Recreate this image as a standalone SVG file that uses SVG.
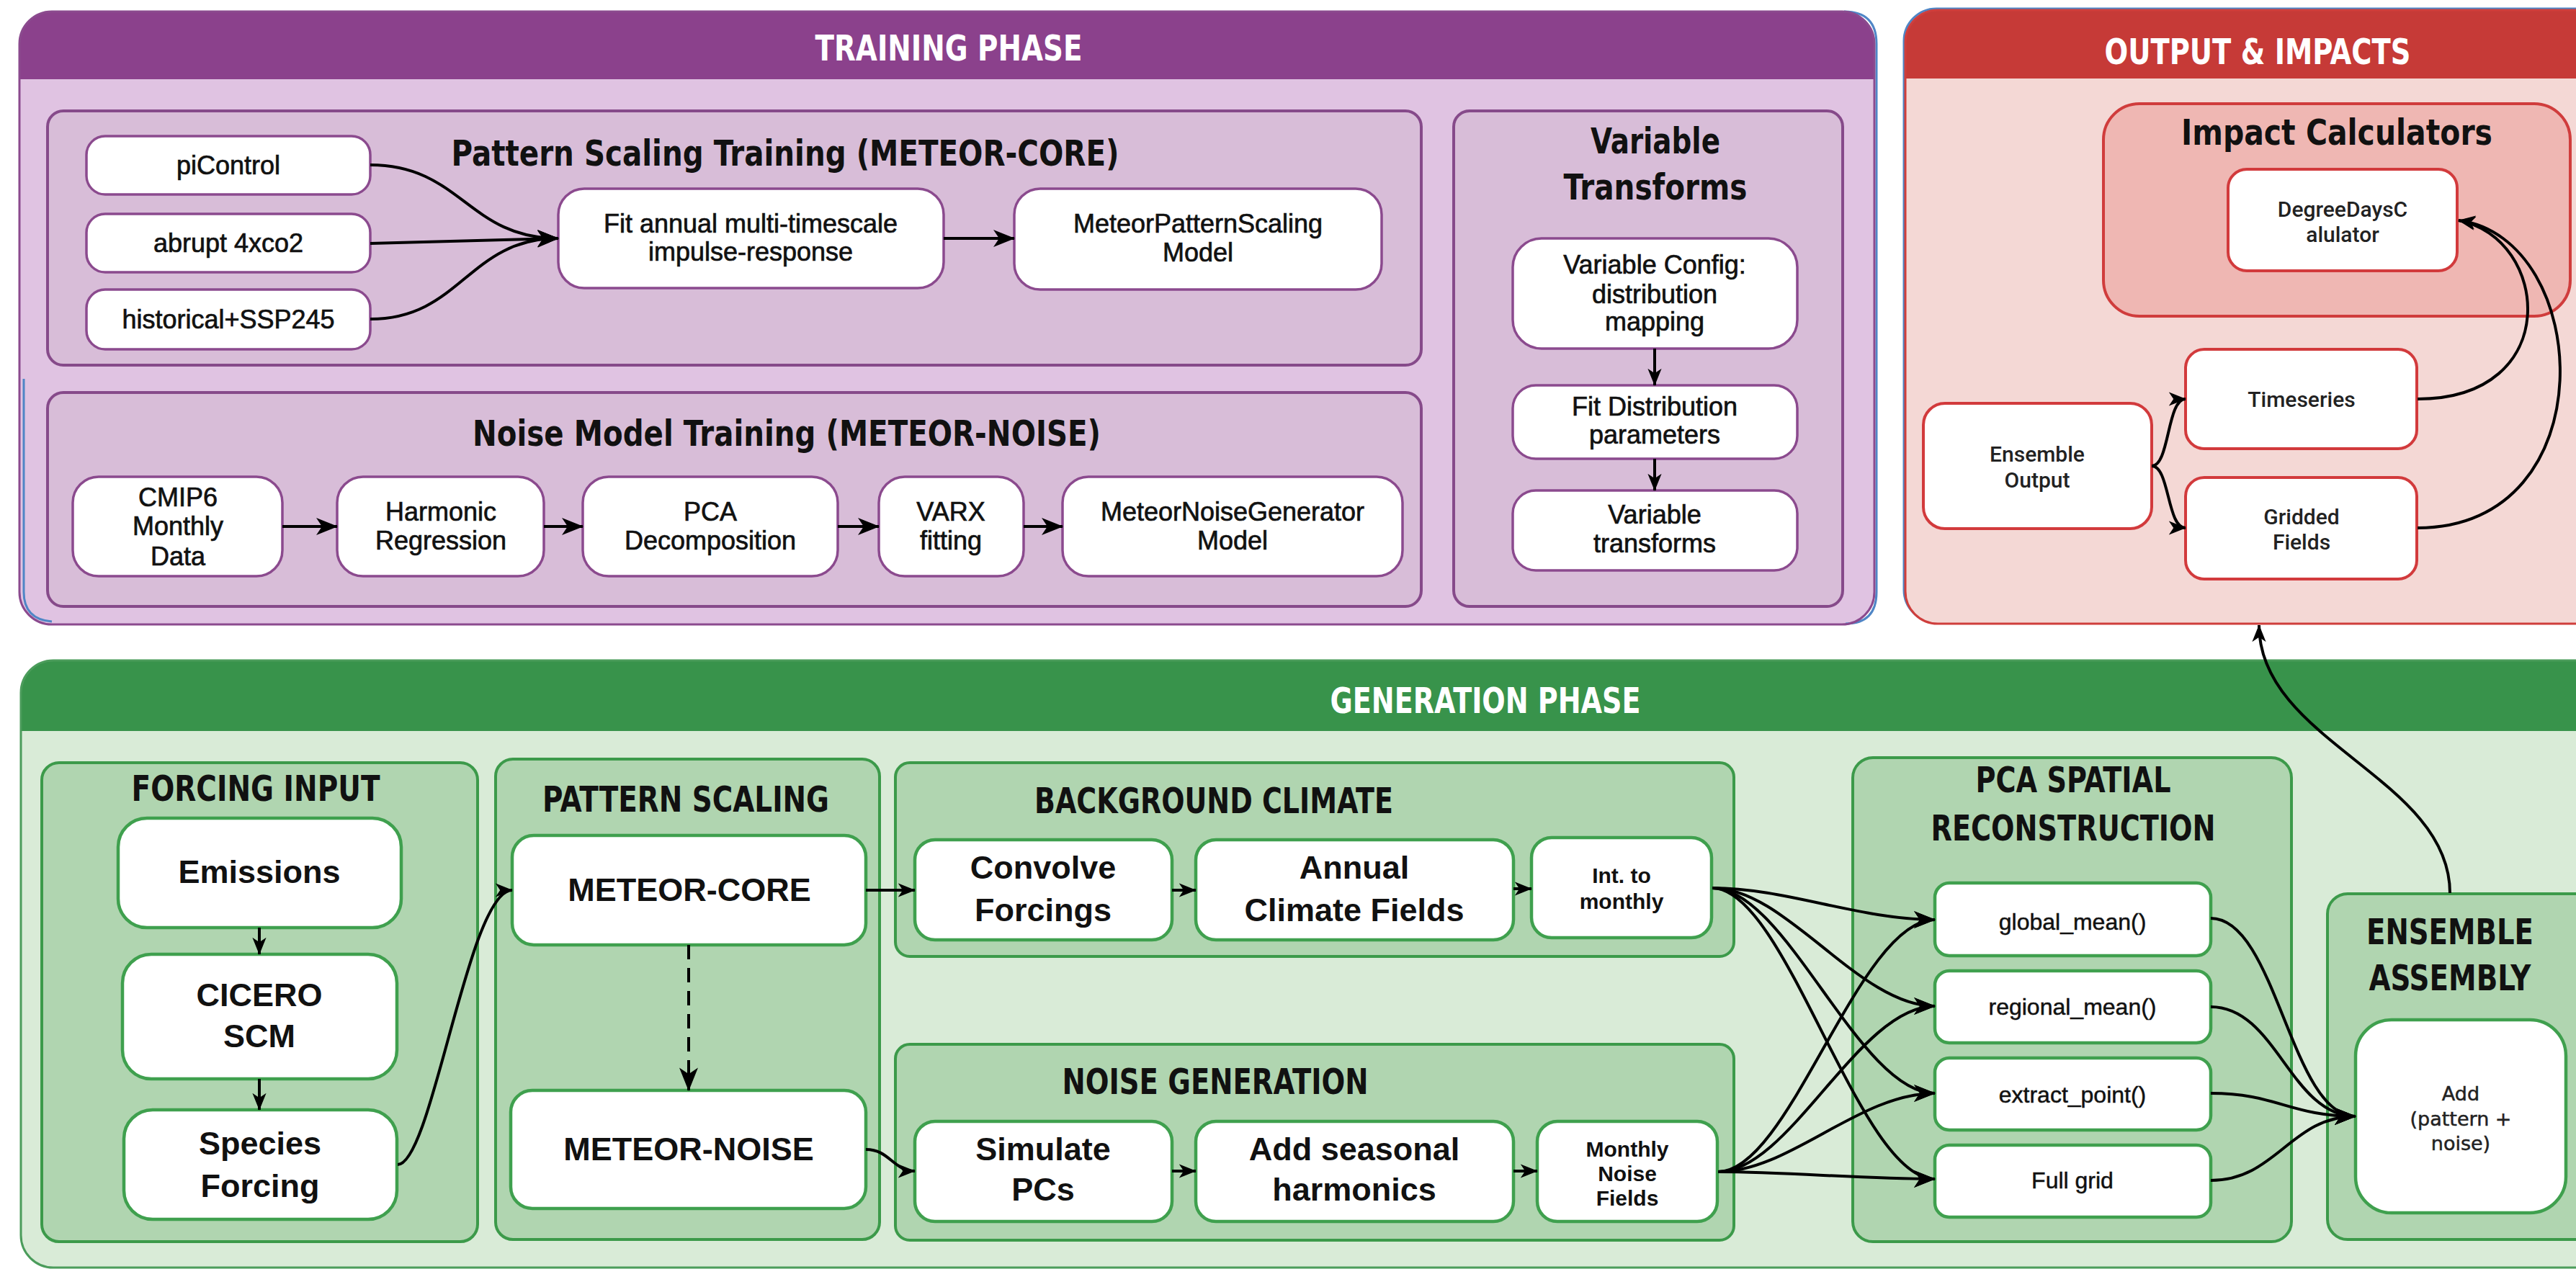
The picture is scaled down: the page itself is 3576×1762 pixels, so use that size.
<svg xmlns="http://www.w3.org/2000/svg" width="3576" height="1762" viewBox="0 0 3576 1762">
<defs>
<style>
.hdr{font-family:'Liberation Sans Narrow','DejaVu Sans Condensed',sans-serif;font-weight:bold;font-size:50px;fill:#fff;text-anchor:middle}
.sec{font-family:'Liberation Sans Narrow','DejaVu Sans Condensed',sans-serif;font-weight:bold;font-size:50px;fill:#111;text-anchor:middle}
.tn{font-family:'Liberation Sans',Arial,sans-serif;font-size:36px;fill:#111;stroke:#111;stroke-width:0.7;text-anchor:middle}
.gn{font-family:'Liberation Sans',Arial,sans-serif;font-weight:bold;font-size:45px;fill:#111;text-anchor:middle}
.gs{font-family:'Liberation Sans',Arial,sans-serif;font-weight:bold;font-size:30px;fill:#111;text-anchor:middle}
.pn{font-family:'Liberation Sans',Arial,sans-serif;font-size:32px;fill:#111;stroke:#111;stroke-width:0.5;text-anchor:middle}
.on{font-family:Roboto,'Liberation Sans',sans-serif;font-weight:500;font-size:30px;fill:#222;text-anchor:middle}
.an{font-family:'DejaVu Sans',sans-serif;font-size:27px;fill:#222;stroke:#222;stroke-width:0.5;text-anchor:middle}
.psub{fill:#D8BDD8;stroke:#864A8A;stroke-width:4}
.pnode{fill:#fff;stroke:#8B4A8E;stroke-width:3.5}
.gsub{fill:#B0D5B0;stroke:#3C9A4A;stroke-width:4}
.gnode{fill:#fff;stroke:#3FA04E;stroke-width:4.5}
.rnode{fill:#fff;stroke:#D23A3C;stroke-width:4}
.conn path{fill:none;stroke:#000;stroke-width:4}
</style>
<marker id="ah" viewBox="0 0 30 24" refX="29" refY="12" markerWidth="30" markerHeight="24" markerUnits="userSpaceOnUse" orient="auto"><path d="M0,0 L30,12 L0,24 L8,12 Z" fill="#000"/></marker>
<marker id="ahs" viewBox="0 0 30 24" refX="29" refY="12" markerWidth="24" markerHeight="20" markerUnits="userSpaceOnUse" orient="auto"><path d="M0,0 L30,12 L0,24 L8,12 Z" fill="#000"/></marker>
<marker id="ahd" viewBox="0 0 30 24" refX="29" refY="12" markerWidth="36" markerHeight="26" markerUnits="userSpaceOnUse" orient="auto"><path d="M0,0 L30,12 L0,24 L8,12 Z" fill="#000"/></marker>
</defs>
<rect width="3576" height="1762" fill="#fff"/>

<!-- TRAINING PHASE -->
<g id="training-phase">
<rect x="27" y="16" width="2575" height="851" rx="45" fill="#E0C3E2"/>
<path d="M27,110 L27,61 A45,45 0 0 1 72,16 L2557,16 A45,45 0 0 1 2602,61 L2602,110 Z" fill="#8B418C"/>
<path d="M2560,16 Q2605,16 2605,61 L2605,822 Q2605,866 2562,866" fill="none" stroke="#4F86C6" stroke-width="3"/>
<rect x="27" y="16" width="2575" height="851" rx="45" fill="none" stroke="#8B4A8E" stroke-width="3"/>
<path d="M33,526 L33,822 Q33,860 72,863" fill="none" stroke="#4F86C6" stroke-width="3"/>
<text class="hdr" x="1317" y="84" textLength="371" lengthAdjust="spacingAndGlyphs">TRAINING PHASE</text>
</g>

<g id="pattern-scaling-training">
<rect class="psub" x="66" y="154" width="1907" height="353" rx="22"/>
<text class="sec" x="1090" y="230" textLength="927" lengthAdjust="spacingAndGlyphs">Pattern Scaling Training (METEOR-CORE)</text>
</g>
<g id="noise-model-training">
<rect class="psub" x="66" y="545" width="1907" height="297" rx="22"/>
<text class="sec" x="1092" y="619" textLength="872" lengthAdjust="spacingAndGlyphs">Noise Model Training (METEOR-NOISE)</text>
</g>
<g id="variable-transforms-group">
<rect class="psub" x="2018" y="154" width="540" height="688" rx="22"/>
<text class="sec" x="2298" y="213" textLength="180" lengthAdjust="spacingAndGlyphs">Variable</text>
<text class="sec" x="2298" y="277" textLength="255" lengthAdjust="spacingAndGlyphs">Transforms</text>
</g>

<g id="picontrol"><rect class="pnode" x="120" y="189" width="394" height="81" rx="26"/><text class="tn" x="317" y="242">piControl</text></g>
<g id="abrupt4xco2"><rect class="pnode" x="120" y="297" width="394" height="81" rx="26"/><text class="tn" x="317" y="350">abrupt 4xco2</text></g>
<g id="historical"><rect class="pnode" x="120" y="402" width="394" height="83" rx="26"/><text class="tn" x="317" y="456">historical+SSP245</text></g>
<g id="fit-impulse"><rect class="pnode" x="775" y="262" width="535" height="138" rx="36"/><text class="tn" x="1042" y="323">Fit annual multi-timescale</text><text class="tn" x="1042" y="362">impulse-response</text></g>
<g id="meteor-pattern-model"><rect class="pnode" x="1408" y="262" width="510" height="140" rx="36"/><text class="tn" x="1663" y="323">MeteorPatternScaling</text><text class="tn" x="1663" y="363">Model</text></g>

<g id="cmip6"><rect class="pnode" x="101" y="662" width="291" height="138" rx="36"/><text class="tn" x="247" y="703">CMIP6</text><text class="tn" x="247" y="743">Monthly</text><text class="tn" x="247" y="785">Data</text></g>
<g id="harmonic-regression"><rect class="pnode" x="468" y="662" width="287" height="138" rx="36"/><text class="tn" x="612" y="723">Harmonic</text><text class="tn" x="612" y="763">Regression</text></g>
<g id="pca-decomposition"><rect class="pnode" x="809" y="662" width="354" height="138" rx="36"/><text class="tn" x="986" y="723">PCA</text><text class="tn" x="986" y="763">Decomposition</text></g>
<g id="varx"><rect class="pnode" x="1220" y="662" width="201" height="138" rx="36"/><text class="tn" x="1320" y="723">VARX</text><text class="tn" x="1320" y="763">fitting</text></g>
<g id="meteor-noise-model"><rect class="pnode" x="1475" y="662" width="472" height="138" rx="36"/><text class="tn" x="1711" y="723">MeteorNoiseGenerator</text><text class="tn" x="1711" y="763">Model</text></g>

<g id="variable-config"><rect class="pnode" x="2100" y="331" width="395" height="153" rx="40"/><text class="tn" x="2297" y="380">Variable Config:</text><text class="tn" x="2297" y="421">distribution</text><text class="tn" x="2297" y="459">mapping</text></g>
<g id="fit-distribution"><rect class="pnode" x="2100" y="535" width="395" height="102" rx="32"/><text class="tn" x="2297" y="577">Fit Distribution</text><text class="tn" x="2297" y="616">parameters</text></g>
<g id="variable-transforms"><rect class="pnode" x="2100" y="681" width="395" height="111" rx="32"/><text class="tn" x="2297" y="727">Variable</text><text class="tn" x="2297" y="767">transforms</text></g>

<!-- OUTPUT & IMPACTS -->
<g id="output-impacts">
<rect x="2643" y="12" width="1000" height="852" rx="45" fill="none" stroke="#4F86C6" stroke-width="3"/>
<rect x="2645" y="14" width="1000" height="852" rx="45" fill="#F4D8D5"/>
<path d="M2645,109 L2645,59 A45,45 0 0 1 2690,14 L3645,14 L3645,109 Z" fill="#C63A37"/>
<rect x="2645" y="14" width="1000" height="852" rx="45" fill="none" stroke="#CF3E3C" stroke-width="3"/>
<text class="hdr" x="3134" y="89" textLength="425" lengthAdjust="spacingAndGlyphs">OUTPUT &amp; IMPACTS</text>
</g>
<g id="impact-calculators">
<rect x="2920" y="144" width="648" height="295" rx="50" fill="#EFB7B3" stroke="#D03C3C" stroke-width="4"/>
<text class="sec" x="3244" y="201" textLength="432" lengthAdjust="spacingAndGlyphs">Impact Calculators</text>
</g>
<g id="degree-days"><rect class="rnode" x="3093" y="235" width="318" height="141" rx="26"/><text class="on" x="3252" y="301">DegreeDaysC</text><text class="on" x="3252" y="336">alulator</text></g>
<g id="timeseries"><rect class="rnode" x="3034" y="485" width="321" height="138" rx="26"/><text class="on" x="3195" y="565">Timeseries</text></g>
<g id="gridded-fields"><rect class="rnode" x="3034" y="663" width="321" height="141" rx="26"/><text class="on" x="3195" y="728">Gridded</text><text class="on" x="3195" y="763">Fields</text></g>
<g id="ensemble-output"><rect class="rnode" x="2670" y="560" width="317" height="174" rx="30"/><text class="on" x="2828" y="641">Ensemble</text><text class="on" x="2828" y="677">Output</text></g>

<!-- GENERATION PHASE -->
<g id="generation-phase">
<rect x="29" y="917" width="3700" height="843" rx="45" fill="#D9EBD7"/>
<path d="M29,1015 L29,962 A45,45 0 0 1 74,917 L3729,917 L3729,1015 Z" fill="#38934B"/>
<rect x="29" y="917" width="3700" height="843" rx="45" fill="none" stroke="#4B9C5B" stroke-width="3"/>
<text class="hdr" x="2062" y="990" textLength="431" lengthAdjust="spacingAndGlyphs">GENERATION PHASE</text>
</g>
<g id="forcing-input"><rect class="gsub" x="58" y="1059" width="605" height="665" rx="24"/><text class="sec" x="355" y="1112" textLength="345" lengthAdjust="spacingAndGlyphs">FORCING INPUT</text></g>
<g id="pattern-scaling"><rect class="gsub" x="688" y="1054" width="533" height="667" rx="24"/><text class="sec" x="952" y="1127" textLength="398" lengthAdjust="spacingAndGlyphs">PATTERN SCALING</text></g>
<g id="background-climate"><rect class="gsub" x="1243" y="1059" width="1164" height="269" rx="20"/><text class="sec" x="1685" y="1129" textLength="498" lengthAdjust="spacingAndGlyphs">BACKGROUND CLIMATE</text></g>
<g id="noise-generation"><rect class="gsub" x="1243" y="1450" width="1164" height="272" rx="20"/><text class="sec" x="1687" y="1519" textLength="425" lengthAdjust="spacingAndGlyphs">NOISE GENERATION</text></g>
<g id="pca-spatial"><rect class="gsub" x="2572" y="1052" width="609" height="672" rx="28"/><text class="sec" x="2878" y="1100" textLength="271" lengthAdjust="spacingAndGlyphs">PCA SPATIAL</text><text class="sec" x="2878" y="1167" textLength="395" lengthAdjust="spacingAndGlyphs">RECONSTRUCTION</text></g>
<g id="ensemble-assembly"><rect class="gsub" x="3231" y="1241" width="420" height="480" rx="28"/><text class="sec" x="3401" y="1311" textLength="232" lengthAdjust="spacingAndGlyphs">ENSEMBLE</text><text class="sec" x="3401" y="1375" textLength="225" lengthAdjust="spacingAndGlyphs">ASSEMBLY</text></g>

<g id="emissions"><rect class="gnode" x="164" y="1136" width="393" height="152" rx="40"/><text class="gn" x="360" y="1226">Emissions</text></g>
<g id="cicero-scm"><rect class="gnode" x="170" y="1325" width="381" height="173" rx="40"/><text class="gn" x="360" y="1397">CICERO</text><text class="gn" x="360" y="1454">SCM</text></g>
<g id="species-forcing"><rect class="gnode" x="172" y="1541" width="379" height="152" rx="40"/><text class="gn" x="361" y="1603">Species</text><text class="gn" x="361" y="1662">Forcing</text></g>
<g id="meteor-core"><rect class="gnode" x="711" y="1160" width="491" height="152" rx="30"/><text class="gn" x="957" y="1251">METEOR-CORE</text></g>
<g id="meteor-noise"><rect class="gnode" x="709" y="1514" width="493" height="164" rx="30"/><text class="gn" x="956" y="1611">METEOR-NOISE</text></g>
<g id="convolve-forcings"><rect class="gnode" x="1270" y="1166" width="357" height="139" rx="28"/><text class="gn" x="1448" y="1220">Convolve</text><text class="gn" x="1448" y="1279">Forcings</text></g>
<g id="annual-climate"><rect class="gnode" x="1660" y="1166" width="441" height="139" rx="28"/><text class="gn" x="1880" y="1220">Annual</text><text class="gn" x="1880" y="1279">Climate Fields</text></g>
<g id="int-monthly"><rect class="gnode" x="2126" y="1163" width="250" height="139" rx="28"/><text class="gs" x="2251" y="1226">Int. to</text><text class="gs" x="2251" y="1262">monthly</text></g>
<g id="simulate-pcs"><rect class="gnode" x="1270" y="1557" width="357" height="139" rx="28"/><text class="gn" x="1448" y="1611">Simulate</text><text class="gn" x="1448" y="1667">PCs</text></g>
<g id="seasonal-harmonics"><rect class="gnode" x="1660" y="1557" width="441" height="139" rx="28"/><text class="gn" x="1880" y="1611">Add seasonal</text><text class="gn" x="1880" y="1667">harmonics</text></g>
<g id="monthly-noise"><rect class="gnode" x="2134" y="1557" width="250" height="139" rx="28"/><text class="gs" x="2259" y="1606">Monthly</text><text class="gs" x="2259" y="1640">Noise</text><text class="gs" x="2259" y="1674">Fields</text></g>
<g id="global-mean"><rect class="gnode" x="2686" y="1226" width="383" height="101" rx="20"/><text class="pn" x="2877" y="1291">global_mean()</text></g>
<g id="regional-mean"><rect class="gnode" x="2686" y="1348" width="383" height="100" rx="20"/><text class="pn" x="2877" y="1409">regional_mean()</text></g>
<g id="extract-point"><rect class="gnode" x="2686" y="1469" width="383" height="100" rx="20"/><text class="pn" x="2877" y="1531">extract_point()</text></g>
<g id="full-grid"><rect class="gnode" x="2686" y="1590" width="383" height="100" rx="20"/><text class="pn" x="2877" y="1650">Full grid</text></g>
<g id="add-pattern-noise"><rect class="gnode" x="3270" y="1416" width="292" height="268" rx="50"/><text class="an" x="3416" y="1528">Add</text><text class="an" x="3416" y="1563">(pattern +</text><text class="an" x="3416" y="1597">noise)</text></g>

<!-- CONNECTORS -->
<g id="connectors" class="conn">
<path d="M514,229 C640,229 650,331 775,331" marker-end="url(#ah)"/>
<path d="M514,338 L775,331" marker-end="url(#ah)"/>
<path d="M514,443 C640,443 650,331 775,331" marker-end="url(#ah)"/>
<path d="M1310,331 L1408,331" marker-end="url(#ah)"/>
<path d="M392,731 L468,731" marker-end="url(#ah)"/>
<path d="M755,731 L809,731" marker-end="url(#ah)"/>
<path d="M1163,731 L1220,731" marker-end="url(#ah)"/>
<path d="M1421,731 L1475,731" marker-end="url(#ah)"/>
<path d="M2297,484 L2297,535" stroke-width="3" marker-end="url(#ahs)"/>
<path d="M2297,637 L2297,681" stroke-width="3" marker-end="url(#ahs)"/>

<path d="M2987,647 C3012,647 3008,554 3034,554" stroke-width="3.5" marker-end="url(#ahs)"/>
<path d="M2987,647 C3012,647 3008,733 3034,733" stroke-width="3.5" marker-end="url(#ahs)"/>
<path d="M3356,554 C3560,554 3540,330 3413,306" stroke-width="3.5" marker-end="url(#ahs)"/>
<path d="M3356,733 C3620,733 3600,330 3413,306" stroke-width="3.5" marker-end="url(#ahs)"/>

<path d="M3401,1240 C3401,1080 3136,1030 3136,868" stroke-width="3.5" marker-end="url(#ahs)"/>

<path d="M360,1288 L360,1325" stroke-width="3" marker-end="url(#ahs)"/>
<path d="M360,1498 L360,1541" stroke-width="3" marker-end="url(#ahs)"/>
<path d="M552,1617 C600,1617 650,1236 711,1236" stroke-width="3.5" marker-end="url(#ahs)"/>
<path d="M956,1312 L956,1514" stroke-width="3" stroke-dasharray="20 12" marker-end="url(#ahd)"/>
<path d="M1202,1236 L1270,1236" stroke-width="3.5" marker-end="url(#ahs)"/>
<path d="M1627,1236 L1660,1236" stroke-width="3.5" marker-end="url(#ahs)"/>
<path d="M2101,1234 L2126,1234" stroke-width="3.5" marker-end="url(#ahs)"/>
<path d="M1202,1596 C1235,1596 1240,1626 1270,1626" stroke-width="3.5" marker-end="url(#ahs)"/>
<path d="M1627,1626 L1660,1626" stroke-width="3.5" marker-end="url(#ahs)"/>
<path d="M2101,1626 L2134,1626" stroke-width="3.5" marker-end="url(#ahs)"/>

<path d="M2377,1233 C2480,1233 2580,1277 2686,1277" marker-end="url(#ah)"/>
<path d="M2377,1233 C2480,1233 2580,1397 2686,1397" marker-end="url(#ah)"/>
<path d="M2377,1233 C2480,1233 2580,1518 2686,1518" marker-end="url(#ah)"/>
<path d="M2377,1233 C2480,1233 2580,1637 2686,1637" marker-end="url(#ah)"/>
<path d="M2385,1627 C2485,1627 2580,1277 2686,1277" marker-end="url(#ah)"/>
<path d="M2385,1627 C2485,1627 2580,1397 2686,1397" marker-end="url(#ah)"/>
<path d="M2385,1627 C2485,1627 2580,1518 2686,1518" marker-end="url(#ah)"/>
<path d="M2385,1627 C2485,1627 2580,1637 2686,1637" marker-end="url(#ah)"/>

<path d="M3069,1275 C3160,1275 3180,1550 3270,1550" marker-end="url(#ah)"/>
<path d="M3069,1398 C3160,1398 3180,1550 3270,1550" marker-end="url(#ah)"/>
<path d="M3069,1518 C3160,1518 3180,1550 3270,1550" marker-end="url(#ah)"/>
<path d="M3069,1639 C3160,1639 3180,1550 3270,1550" marker-end="url(#ah)"/>
</g>
</svg>
